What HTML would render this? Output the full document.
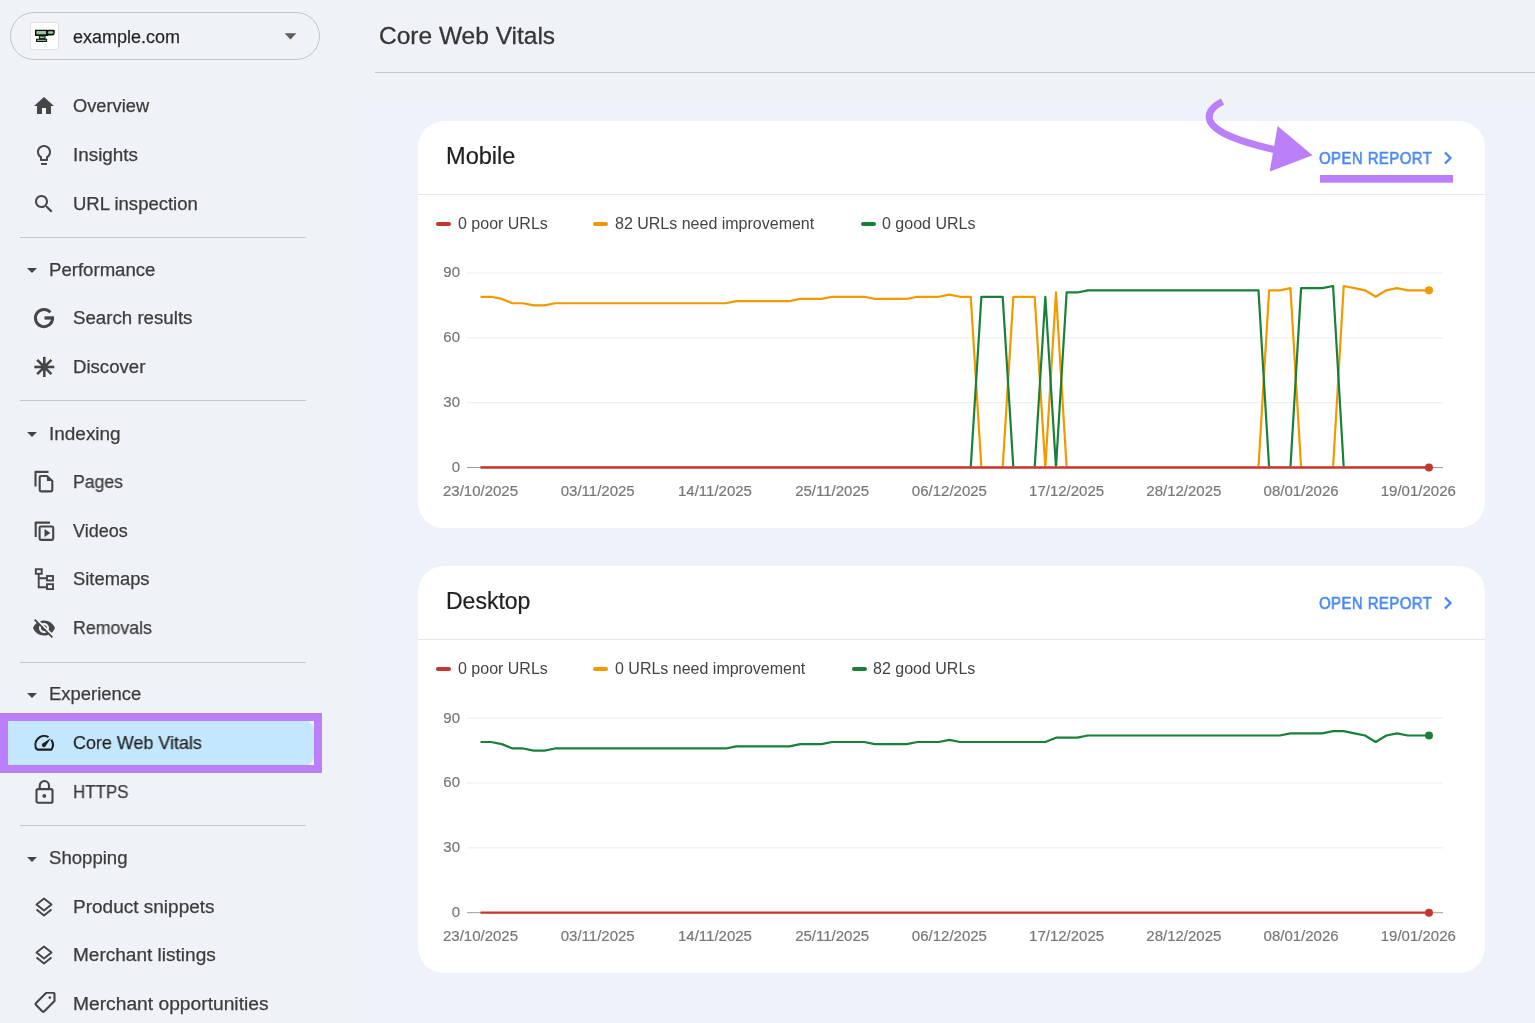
<!DOCTYPE html>
<html><head><meta charset="utf-8"><title>Core Web Vitals</title>
<style>
html,body{margin:0;padding:0;}
body{width:1535px;height:1023px;overflow:hidden;background:#eff2f7;position:relative;font-family:"Liberation Sans",sans-serif;}
.t{position:absolute;white-space:nowrap;line-height:1;will-change:transform;}
.nav{font-size:18px;color:#3c3c3c;-webkit-text-stroke:0.25px #3c3c3c;}
.ic{position:absolute;}
.div{position:absolute;left:20px;width:286px;height:1px;background:#c4c7c5;}
.card{position:absolute;left:418px;width:1067px;background:#fff;border-radius:26px;}
.ax{font-family:"Liberation Sans",sans-serif;font-size:15px;fill:#777;stroke:#777;stroke-width:0.2px;}
.leg{font-size:16px;color:#444;}
.dash{position:absolute;width:15px;height:4.5px;border-radius:3px;}
.open{font-size:16.8px;font-weight:normal;color:#4687f2;letter-spacing:0.5px;-webkit-text-stroke:0.6px #4687f2;transform:scaleX(0.89);transform-origin:0 0;}
</style></head><body>

<div style="position:absolute;left:367px;top:105px;width:1168px;height:918px;background:#eef2fa;"></div>
<div style="position:absolute;left:10px;top:12px;width:308px;height:46px;border:1.2px solid #c2c5c4;border-radius:25px;"></div>
<div style="position:absolute;left:30px;top:21.5px;width:28.5px;height:28.5px;background:#fff;border:1px solid #e0e0e0;border-radius:3px;box-sizing:border-box;"></div>
<svg class="ic" style="left:34px;top:28px" width="22" height="16" viewBox="0 0 22 16"><path d="M1 1.800H19.800C20.800 1.800 21 2.800 20.800 4.700 20.500 6.700 19.500 7.500 18 7.500H14.500L13.800 8H1z" fill="#111"/><rect x="2.500" y="3" width="9.500" height="3.300" fill="#93c99a"/><rect x="13.800" y="3.300" width="5.600" height="2.500" rx="1.200" fill="#93c99a"/><path d="M4.900 7.800H11.500V10.800H13.100V14.100H2V10.800H4.900z" fill="#111"/><rect x="5.900" y="8.500" width="4.600" height="1.600" fill="#93c99a"/><rect x="3" y="11.800" width="9.100" height="1.100" fill="#93c99a"/></svg>
<div class="t nav" style="left:73px;top:27.6px;color:#1f1f1f;">example.com</div>
<svg class="ic" style="left:283.5px;top:33px" width="13" height="7" viewBox="0 0 13 7"><path d="M0.6 0.3H12.400L6.500 6.500z" fill="#5e5e5e"/></svg>
<svg class="ic" style="left:31.5px;top:94.3px" width="24" height="24" viewBox="0 0 24 24"><path d="M10 20v-6h4v6h5v-8h3L12 3 2 12h3v8z" fill="#444746"/></svg>
<div class="t nav" style="left:73px;top:97.3px;transform:scaleX(1.015);transform-origin:0 0">Overview</div>
<svg class="ic" style="left:31.5px;top:142.8px" width="24" height="24" viewBox="0 0 24 24"><path d="M9 21c0 .55.45 1 1 1h4c.55 0 1-.45 1-1v-1H9v1zm3-19C8.14 2 5 5.14 5 9c0 2.38 1.19 4.47 3 5.74V17c0 .55.45 1 1 1h6c.55 0 1-.45 1-1v-2.26c1.81-1.27 3-3.36 3-5.74 0-3.86-3.14-7-7-7zm2.85 11.1l-.85.6V16h-4v-2.3l-.85-.6C7.8 12.16 7 10.63 7 9c0-2.76 2.24-5 5-5s5 2.24 5 5c0 1.630-.8 3.16-2.15 4.1z" fill="#444746"/></svg>
<div class="t nav" style="left:73px;top:145.8px;transform:scaleX(1.048);transform-origin:0 0">Insights</div>
<svg class="ic" style="left:31.5px;top:191.5px" width="24" height="24" viewBox="0 0 24 24"><path d="M15.5 14h-.79l-.28-.27C15.41 12.59 16 11.11 16 9.5 16 5.91 13.09 3 9.5 3S3 5.91 3 9.5 5.91 16 9.5 16c1.61 0 3.09-.59 4.23-1.57l.27.28v.79l5 4.99L20.49 19l-4.99-5zm-6 0C7.01 14 5 11.99 5 9.5S7.01 5 9.5 5 14 7.01 14 9.5 11.99 14 9.5 14z" fill="#444746"/></svg>
<div class="t nav" style="left:73px;top:194.5px;transform:scaleX(1.028);transform-origin:0 0">URL inspection</div>
<div class="div" style="top:236.7px"></div>
<svg class="ic" style="left:19.5px;top:258.2px" width="24" height="24" viewBox="0 0 24 24"><path d="M7 10l5 5 5-5z" fill="#444746"/></svg>
<div class="t nav" style="left:48.5px;top:260.6px;transform:scaleX(1.033);transform-origin:0 0">Performance</div>
<svg class="ic" style="left:31.5px;top:306.40000000000003px" width="24" height="24" viewBox="0 0 24 24"><path d="M18.4 6.3A8.6 8.6 0 1 0 20.600 12" fill="none" stroke="#444746" stroke-width="2.900"/><rect x="12.500" y="10.300" width="9.500" height="3.300" fill="#444746"/></svg>
<div class="t nav" style="left:73px;top:309.40000000000003px;transform:scaleX(1.038);transform-origin:0 0">Search results</div>
<svg class="ic" style="left:31.5px;top:354.8px" width="24" height="24" viewBox="0 0 24 24"><g stroke="#444746" stroke-width="2.600"><line x1="12.300" y1="1.900" x2="12.300" y2="22"/><line x1="2.300" y1="12" x2="22.300" y2="12"/><line x1="5.200" y1="4.900" x2="19.400" y2="19.100"/><line x1="5.200" y1="19.100" x2="19.400" y2="4.900"/></g><circle cx="12.300" cy="12" r="3.600" fill="#444746"/></svg>
<div class="t nav" style="left:73px;top:357.8px;transform:scaleX(1.033);transform-origin:0 0">Discover</div>
<div class="div" style="top:400.3px"></div>
<svg class="ic" style="left:19.5px;top:422.4px" width="24" height="24" viewBox="0 0 24 24"><path d="M7 10l5 5 5-5z" fill="#444746"/></svg>
<div class="t nav" style="left:48.5px;top:424.8px;transform:scaleX(1.053);transform-origin:0 0">Indexing</div>
<svg class="ic" style="left:31.5px;top:470.3px" width="24" height="24" viewBox="0 0 24 24"><g fill="none" stroke="#444746" stroke-width="2.100" stroke-linejoin="round"><path d="M3.500 16.600V1.900H16.500"/><path d="M9 6H14.900L20.300 11.100V20.100A1.300 1.300 0 0 1 19 21.400H9A1.300 1.300 0 0 1 7.700 20.100V7.300A1.300 1.300 0 0 1 9 6z"/></g><path d="M14.900 6V11.100H20.300z" fill="#444746"/></svg>
<div class="t nav" style="left:73px;top:473.3px;transform:scaleX(0.98);transform-origin:0 0">Pages</div>
<svg class="ic" style="left:31.5px;top:518.5px" width="24" height="24" viewBox="0 0 24 24"><g fill="none" stroke="#444746" stroke-width="2.100" stroke-linejoin="round"><path d="M3.700 18.100V3.600H18"/><rect x="7.600" y="7.500" width="13.600" height="13.400" rx="1.300"/></g><path d="M12.500 9.900V18.100L18.400 14z" fill="#444746"/></svg>
<div class="t nav" style="left:73px;top:521.5px;transform:scaleX(1.0);transform-origin:0 0">Videos</div>
<svg class="ic" style="left:31.5px;top:566.8px" width="24" height="24" viewBox="0 0 24 24"><g fill="none" stroke="#444746" stroke-width="1.900"><rect x="3.800" y="2.200" width="5.900" height="4.600"/><rect x="15" y="9" width="6" height="4.500"/><rect x="15" y="17.200" width="6" height="4.900"/><path d="M6.700 6.800V20.200H15M6.700 11.200H15"/></g></svg>
<div class="t nav" style="left:73px;top:569.8px;transform:scaleX(1.02);transform-origin:0 0">Sitemaps</div>
<svg class="ic" style="left:31.5px;top:615.5999999999999px" width="24" height="24" viewBox="0 0 24 24"><path d="M12 7c2.760 0 5 2.240 5 5 0 .650-.130 1.260-.360 1.830l2.920 2.920c1.510-1.260 2.700-2.890 3.430-4.750-1.730-4.390-6-7.500-11-7.500-1.400 0-2.740.250-3.980.700l2.160 2.160C10.740 7.130 11.350 7 12 7zM2 4.270l2.280 2.280.460.460C3.080 8.300 1.780 10.020 1 12c1.730 4.390 6 7.500 11 7.500 1.550 0 3.030-.300 4.380-.840l.420.420L19.730 22 21 20.730 3.270 3 2 4.270zM7.530 9.800l1.550 1.550c-.050.210-.080.430-.080.650 0 1.660 1.340 3 3 3 .220 0 .440-.030.650-.080l1.550 1.550c-.670.330-1.410.530-2.200.530-2.760 0-5-2.240-5-5 0-.790.200-1.530.530-2.200zm4.310-.780l3.150 3.150.020-.160c0-1.660-1.340-3-3-3l-.170.010z" fill="#444746"/></svg>
<div class="t nav" style="left:73px;top:618.5999999999999px;transform:scaleX(0.987);transform-origin:0 0">Removals</div>
<div class="div" style="top:661.7px"></div>
<svg class="ic" style="left:19.5px;top:683.0px" width="24" height="24" viewBox="0 0 24 24"><path d="M7 10l5 5 5-5z" fill="#444746"/></svg>
<div class="t nav" style="left:48.5px;top:685.4px;transform:scaleX(1.024);transform-origin:0 0">Experience</div>
<div style="position:absolute;left:0;top:713px;width:322px;height:60px;background:#bb80f9;"></div><div style="position:absolute;left:8px;top:721px;width:306px;height:44px;background:#eff2f7;"></div>
<div style="position:absolute;left:8px;top:721px;width:306px;height:44px;background:#c2e7ff;border-radius:0 9px 9px 0;"></div>
<svg class="ic" style="left:31.5px;top:731.1999999999999px" width="24" height="24" viewBox="0 0 24 24"><path d="M4.870 18.600A8.750 8.750 0 0 1 16.500 6.170M19.300 8.730A8.750 8.750 0 0 1 19.430 18.600H4.870" fill="none" stroke="#1f1f1f" stroke-width="2.100" stroke-linejoin="round"/><path d="M10.300 15.300A2 2 0 0 0 13.300 15.500L19 7 10.600 12.600A2 2 0 0 0 10.300 15.300z" fill="#1f1f1f"/></svg>
<div class="t nav" style="left:73px;top:734.1999999999999px;color:#1f1f1f;transform:scaleX(0.995);transform-origin:0 0">Core Web Vitals</div>
<svg class="ic" style="left:31.5px;top:779.5px" width="24" height="24" viewBox="0 0 24 24"><g fill="none" stroke="#444746" stroke-width="2.100"><rect x="4.500" y="9.100" width="16" height="13.700" rx="1.600"/><path d="M7.700 9.100V5.700A4.650 4.650 0 0 1 17 5.700V9.100"/></g><circle cx="12.300" cy="15.900" r="1.900" fill="#444746"/></svg>
<div class="t nav" style="left:73px;top:782.5px;transform:scaleX(0.94);transform-origin:0 0">HTTPS</div>
<div class="div" style="top:825.1px"></div>
<svg class="ic" style="left:19.5px;top:846.9px" width="24" height="24" viewBox="0 0 24 24"><path d="M7 10l5 5 5-5z" fill="#444746"/></svg>
<div class="t nav" style="left:48.5px;top:849.3px;transform:scaleX(1.032);transform-origin:0 0">Shopping</div>
<svg class="ic" style="left:31.5px;top:894.5999999999999px" width="24" height="24" viewBox="0 0 24 24"><g fill="none" stroke="#444746" stroke-width="2" stroke-linejoin="round"><path d="M12 3.500L4.500 9.500 12 15.500 19.500 9.500z"/><path d="M4.500 14.500L12 20.500l7.500-6"/></g></svg>
<div class="t nav" style="left:73px;top:897.5999999999999px;transform:scaleX(1.056);transform-origin:0 0">Product snippets</div>
<svg class="ic" style="left:31.5px;top:943.0999999999999px" width="24" height="24" viewBox="0 0 24 24"><g fill="none" stroke="#444746" stroke-width="2" stroke-linejoin="round"><path d="M12 3.500L4.500 9.500 12 15.500 19.500 9.500z"/><path d="M4.500 14.500L12 20.500l7.500-6"/></g></svg>
<div class="t nav" style="left:73px;top:946.0999999999999px;transform:scaleX(1.057);transform-origin:0 0">Merchant listings</div>
<svg class="ic" style="left:31.5px;top:991.5999999999999px" width="24" height="24" viewBox="0 0 24 24"><g fill="none" stroke="#444746" stroke-width="2.100" stroke-linejoin="round"><path d="M14.300 0.800H21.200A1.300 1.300 0 0 1 22.500 2.100V9L12.300 19.200A1.500 1.500 0 0 1 10.200 19.200L4.100 13.100A1.500 1.500 0 0 1 4.100 11z"/></g><circle cx="17.800" cy="5.600" r="1.300" fill="#444746"/></svg>
<div class="t nav" style="left:73px;top:994.5999999999999px;transform:scaleX(1.068);transform-origin:0 0">Merchant opportunities</div>
<div class="t" style="left:379px;top:24.099999999999998px;font-size:24.5px;color:#363636;-webkit-text-stroke:0.3px #363636;">Core Web Vitals</div>
<div style="position:absolute;left:375px;top:72px;width:1160px;height:1px;background:#c4c7c5;"></div>
<div class="card" style="top:121px;height:407px;"></div>
<div class="t" style="left:446px;top:144.5px;font-size:23px;color:#202020;-webkit-text-stroke:0.2px #202020;transform:scaleX(1.025);transform-origin:0 0;">Mobile</div>
<div style="position:absolute;left:418px;top:194px;width:1067px;height:1px;background:#e6e6e6;"></div>
<div class="t open" style="left:1319px;top:150.9px">OPEN REPORT</div>
<svg class="ic" style="left:1440px;top:145.5px" width="16" height="24" viewBox="0 0 16 24"><path d="M5 6.500l5.500 5.500L5 17.500" fill="none" stroke="#4687f2" stroke-width="2.300"/></svg>
<div class="dash" style="left:435.8px;top:221.8px;background:#c5372c"></div>
<div class="t leg" style="left:457.5px;top:216.1px">0 poor URLs</div>
<div class="dash" style="left:592.8px;top:221.8px;background:#f29900"></div>
<div class="t leg" style="left:614.5px;top:216.1px">82 URLs need improvement</div>
<div class="dash" style="left:860.8px;top:221.8px;background:#188038"></div>
<div class="t leg" style="left:882.0px;top:216.1px">0 good URLs</div>
<div class="card" style="top:566px;height:407px;"></div>
<div class="t" style="left:446px;top:589.5px;font-size:23px;color:#202020;-webkit-text-stroke:0.2px #202020;transform:scaleX(1.0);transform-origin:0 0;">Desktop</div>
<div style="position:absolute;left:418px;top:639px;width:1067px;height:1px;background:#e6e6e6;"></div>
<div class="t open" style="left:1319px;top:595.9px">OPEN REPORT</div>
<svg class="ic" style="left:1440px;top:590.5px" width="16" height="24" viewBox="0 0 16 24"><path d="M5 6.500l5.500 5.500L5 17.500" fill="none" stroke="#4687f2" stroke-width="2.300"/></svg>
<div class="dash" style="left:435.8px;top:666.8px;background:#c5372c"></div>
<div class="t leg" style="left:457.5px;top:661.1px">0 poor URLs</div>
<div class="dash" style="left:592.8px;top:666.8px;background:#f29900"></div>
<div class="t leg" style="left:614.5px;top:661.1px">0 URLs need improvement</div>
<div class="dash" style="left:851.8px;top:666.8px;background:#188038"></div>
<div class="t leg" style="left:873.0px;top:661.1px">82 good URLs</div>
<svg style="position:absolute;left:0;top:0" width="1535" height="1023">
<line x1="467" y1="402.67" x2="1443" y2="402.67" stroke="#ebebeb" stroke-width="1"/>
<line x1="467" y1="337.84" x2="1443" y2="337.84" stroke="#ebebeb" stroke-width="1"/>
<line x1="467" y1="273.01" x2="1443" y2="273.01" stroke="#ebebeb" stroke-width="1"/>
<line x1="467" y1="467.50" x2="1443" y2="467.50" stroke="#9e9e9e" stroke-width="1"/>
<text x="460" y="471.80" text-anchor="end" class="ax">0</text>
<text x="460" y="406.97" text-anchor="end" class="ax">30</text>
<text x="460" y="342.14" text-anchor="end" class="ax">60</text>
<text x="460" y="277.31" text-anchor="end" class="ax">90</text>
<text x="480.50" y="495.50" text-anchor="middle" class="ax">23/10/2025</text>
<text x="597.73" y="495.50" text-anchor="middle" class="ax">03/11/2025</text>
<text x="714.95" y="495.50" text-anchor="middle" class="ax">14/11/2025</text>
<text x="832.18" y="495.50" text-anchor="middle" class="ax">25/11/2025</text>
<text x="949.41" y="495.50" text-anchor="middle" class="ax">06/12/2025</text>
<text x="1066.63" y="495.50" text-anchor="middle" class="ax">17/12/2025</text>
<text x="1183.86" y="495.50" text-anchor="middle" class="ax">28/12/2025</text>
<text x="1301.09" y="495.50" text-anchor="middle" class="ax">08/01/2026</text>
<text x="1418.30" y="495.50" text-anchor="middle" class="ax">19/01/2026</text>
<clipPath id="c467"><rect x="0" y="0" width="1535" height="466.40"/></clipPath>
<polyline clip-path="url(#c467)" points="480.50,296.78 491.16,296.78 501.81,298.94 512.47,303.26 523.13,303.26 533.78,305.43 544.44,305.43 555.10,303.26 565.76,303.26 576.41,303.26 587.07,303.26 597.73,303.26 608.38,303.26 619.04,303.26 629.70,303.26 640.36,303.26 651.01,303.26 661.67,303.26 672.33,303.26 682.98,303.26 693.64,303.26 704.30,303.26 714.95,303.26 725.61,303.26 736.27,301.10 746.92,301.10 757.58,301.10 768.24,301.10 778.90,301.10 789.55,301.10 800.21,298.94 810.87,298.94 821.52,298.94 832.18,296.78 842.84,296.78 853.50,296.78 864.15,296.78 874.81,298.94 885.47,298.94 896.12,298.94 906.78,298.94 917.44,296.78 928.09,296.78 938.75,296.78 949.41,294.62 960.07,296.78 970.72,296.78 981.38,467.50 992.04,467.50 1002.69,467.50 1013.35,296.78 1024.01,296.78 1034.66,296.78 1045.32,467.50 1055.98,292.46 1066.63,467.50 1077.29,467.50 1087.95,467.50 1098.61,467.50 1109.26,467.50 1119.92,467.50 1130.58,467.50 1141.23,467.50 1151.89,467.50 1162.55,467.50 1173.20,467.50 1183.86,467.50 1194.52,467.50 1205.18,467.50 1215.83,467.50 1226.49,467.50 1237.15,467.50 1247.80,467.50 1258.46,467.50 1269.12,290.30 1279.78,290.30 1290.43,288.14 1301.09,467.50 1311.75,467.50 1322.40,467.50 1333.06,467.50 1343.72,285.98 1354.37,288.14 1365.03,290.30 1375.69,296.78 1386.35,290.30 1397.00,288.14 1407.66,290.30 1418.32,290.30 1428.97,290.30" fill="none" stroke="#f29900" stroke-width="2.2" stroke-linejoin="round"/>
<polyline clip-path="url(#c467)" points="480.50,467.50 491.16,467.50 501.81,467.50 512.47,467.50 523.13,467.50 533.78,467.50 544.44,467.50 555.10,467.50 565.76,467.50 576.41,467.50 587.07,467.50 597.73,467.50 608.38,467.50 619.04,467.50 629.70,467.50 640.36,467.50 651.01,467.50 661.67,467.50 672.33,467.50 682.98,467.50 693.64,467.50 704.30,467.50 714.95,467.50 725.61,467.50 736.27,467.50 746.92,467.50 757.58,467.50 768.24,467.50 778.90,467.50 789.55,467.50 800.21,467.50 810.87,467.50 821.52,467.50 832.18,467.50 842.84,467.50 853.50,467.50 864.15,467.50 874.81,467.50 885.47,467.50 896.12,467.50 906.78,467.50 917.44,467.50 928.09,467.50 938.75,467.50 949.41,467.50 960.07,467.50 970.72,467.50 981.38,296.78 992.04,296.78 1002.69,296.78 1013.35,467.50 1024.01,467.50 1034.66,467.50 1045.32,296.78 1055.98,467.50 1066.63,292.46 1077.29,292.46 1087.95,290.30 1098.61,290.30 1109.26,290.30 1119.92,290.30 1130.58,290.30 1141.23,290.30 1151.89,290.30 1162.55,290.30 1173.20,290.30 1183.86,290.30 1194.52,290.30 1205.18,290.30 1215.83,290.30 1226.49,290.30 1237.15,290.30 1247.80,290.30 1258.46,290.30 1269.12,467.50 1279.78,467.50 1290.43,467.50 1301.09,288.14 1311.75,288.14 1322.40,288.14 1333.06,285.98 1343.72,467.50 1354.37,467.50 1365.03,467.50 1375.69,467.50 1386.35,467.50 1397.00,467.50 1407.66,467.50 1418.32,467.50 1428.97,467.50" fill="none" stroke="#188038" stroke-width="2.2" stroke-linejoin="round"/>
<polyline points="480.50,467.50 491.16,467.50 501.81,467.50 512.47,467.50 523.13,467.50 533.78,467.50 544.44,467.50 555.10,467.50 565.76,467.50 576.41,467.50 587.07,467.50 597.73,467.50 608.38,467.50 619.04,467.50 629.70,467.50 640.36,467.50 651.01,467.50 661.67,467.50 672.33,467.50 682.98,467.50 693.64,467.50 704.30,467.50 714.95,467.50 725.61,467.50 736.27,467.50 746.92,467.50 757.58,467.50 768.24,467.50 778.90,467.50 789.55,467.50 800.21,467.50 810.87,467.50 821.52,467.50 832.18,467.50 842.84,467.50 853.50,467.50 864.15,467.50 874.81,467.50 885.47,467.50 896.12,467.50 906.78,467.50 917.44,467.50 928.09,467.50 938.75,467.50 949.41,467.50 960.07,467.50 970.72,467.50 981.38,467.50 992.04,467.50 1002.69,467.50 1013.35,467.50 1024.01,467.50 1034.66,467.50 1045.32,467.50 1055.98,467.50 1066.63,467.50 1077.29,467.50 1087.95,467.50 1098.61,467.50 1109.26,467.50 1119.92,467.50 1130.58,467.50 1141.23,467.50 1151.89,467.50 1162.55,467.50 1173.20,467.50 1183.86,467.50 1194.52,467.50 1205.18,467.50 1215.83,467.50 1226.49,467.50 1237.15,467.50 1247.80,467.50 1258.46,467.50 1269.12,467.50 1279.78,467.50 1290.43,467.50 1301.09,467.50 1311.75,467.50 1322.40,467.50 1333.06,467.50 1343.72,467.50 1354.37,467.50 1365.03,467.50 1375.69,467.50 1386.35,467.50 1397.00,467.50 1407.66,467.50 1418.32,467.50 1428.97,467.50" fill="none" stroke="#c5372c" stroke-width="2.3" stroke-linejoin="round"/>
<circle cx="1428.97" cy="290.30" r="4" fill="#f29900"/>
<circle cx="1428.97" cy="467.5" r="4" fill="#c5372c"/>
<line x1="467" y1="847.87" x2="1443" y2="847.87" stroke="#ebebeb" stroke-width="1"/>
<line x1="467" y1="783.04" x2="1443" y2="783.04" stroke="#ebebeb" stroke-width="1"/>
<line x1="467" y1="718.21" x2="1443" y2="718.21" stroke="#ebebeb" stroke-width="1"/>
<line x1="467" y1="912.70" x2="1443" y2="912.70" stroke="#9e9e9e" stroke-width="1"/>
<text x="460" y="917.00" text-anchor="end" class="ax">0</text>
<text x="460" y="852.17" text-anchor="end" class="ax">30</text>
<text x="460" y="787.34" text-anchor="end" class="ax">60</text>
<text x="460" y="722.51" text-anchor="end" class="ax">90</text>
<text x="480.50" y="940.70" text-anchor="middle" class="ax">23/10/2025</text>
<text x="597.73" y="940.70" text-anchor="middle" class="ax">03/11/2025</text>
<text x="714.95" y="940.70" text-anchor="middle" class="ax">14/11/2025</text>
<text x="832.18" y="940.70" text-anchor="middle" class="ax">25/11/2025</text>
<text x="949.41" y="940.70" text-anchor="middle" class="ax">06/12/2025</text>
<text x="1066.63" y="940.70" text-anchor="middle" class="ax">17/12/2025</text>
<text x="1183.86" y="940.70" text-anchor="middle" class="ax">28/12/2025</text>
<text x="1301.09" y="940.70" text-anchor="middle" class="ax">08/01/2026</text>
<text x="1418.30" y="940.70" text-anchor="middle" class="ax">19/01/2026</text>
<clipPath id="c912"><rect x="0" y="0" width="1535" height="911.60"/></clipPath>
<polyline clip-path="url(#c912)" points="480.50,741.98 491.16,741.98 501.81,744.14 512.47,748.46 523.13,748.46 533.78,750.62 544.44,750.62 555.10,748.46 565.76,748.46 576.41,748.46 587.07,748.46 597.73,748.46 608.38,748.46 619.04,748.46 629.70,748.46 640.36,748.46 651.01,748.46 661.67,748.46 672.33,748.46 682.98,748.46 693.64,748.46 704.30,748.46 714.95,748.46 725.61,748.46 736.27,746.30 746.92,746.30 757.58,746.30 768.24,746.30 778.90,746.30 789.55,746.30 800.21,744.14 810.87,744.14 821.52,744.14 832.18,741.98 842.84,741.98 853.50,741.98 864.15,741.98 874.81,744.14 885.47,744.14 896.12,744.14 906.78,744.14 917.44,741.98 928.09,741.98 938.75,741.98 949.41,739.82 960.07,741.98 970.72,741.98 981.38,741.98 992.04,741.98 1002.69,741.98 1013.35,741.98 1024.01,741.98 1034.66,741.98 1045.32,741.98 1055.98,737.66 1066.63,737.66 1077.29,737.66 1087.95,735.50 1098.61,735.50 1109.26,735.50 1119.92,735.50 1130.58,735.50 1141.23,735.50 1151.89,735.50 1162.55,735.50 1173.20,735.50 1183.86,735.50 1194.52,735.50 1205.18,735.50 1215.83,735.50 1226.49,735.50 1237.15,735.50 1247.80,735.50 1258.46,735.50 1269.12,735.50 1279.78,735.50 1290.43,733.34 1301.09,733.34 1311.75,733.34 1322.40,733.34 1333.06,731.18 1343.72,731.18 1354.37,733.34 1365.03,735.50 1375.69,741.98 1386.35,735.50 1397.00,733.34 1407.66,735.50 1418.32,735.50 1428.97,735.50" fill="none" stroke="#188038" stroke-width="2.2" stroke-linejoin="round"/>
<polyline points="480.50,912.70 491.16,912.70 501.81,912.70 512.47,912.70 523.13,912.70 533.78,912.70 544.44,912.70 555.10,912.70 565.76,912.70 576.41,912.70 587.07,912.70 597.73,912.70 608.38,912.70 619.04,912.70 629.70,912.70 640.36,912.70 651.01,912.70 661.67,912.70 672.33,912.70 682.98,912.70 693.64,912.70 704.30,912.70 714.95,912.70 725.61,912.70 736.27,912.70 746.92,912.70 757.58,912.70 768.24,912.70 778.90,912.70 789.55,912.70 800.21,912.70 810.87,912.70 821.52,912.70 832.18,912.70 842.84,912.70 853.50,912.70 864.15,912.70 874.81,912.70 885.47,912.70 896.12,912.70 906.78,912.70 917.44,912.70 928.09,912.70 938.75,912.70 949.41,912.70 960.07,912.70 970.72,912.70 981.38,912.70 992.04,912.70 1002.69,912.70 1013.35,912.70 1024.01,912.70 1034.66,912.70 1045.32,912.70 1055.98,912.70 1066.63,912.70 1077.29,912.70 1087.95,912.70 1098.61,912.70 1109.26,912.70 1119.92,912.70 1130.58,912.70 1141.23,912.70 1151.89,912.70 1162.55,912.70 1173.20,912.70 1183.86,912.70 1194.52,912.70 1205.18,912.70 1215.83,912.70 1226.49,912.70 1237.15,912.70 1247.80,912.70 1258.46,912.70 1269.12,912.70 1279.78,912.70 1290.43,912.70 1301.09,912.70 1311.75,912.70 1322.40,912.70 1333.06,912.70 1343.72,912.70 1354.37,912.70 1365.03,912.70 1375.69,912.70 1386.35,912.70 1397.00,912.70 1407.66,912.70 1418.32,912.70 1428.97,912.70" fill="none" stroke="#c5372c" stroke-width="2.3" stroke-linejoin="round"/>
<circle cx="1428.97" cy="735.50" r="4" fill="#188038"/>
<circle cx="1428.97" cy="912.7" r="4" fill="#c5372c"/>
<path d="M1222.500 101.500C1212 107 1207 113 1210 121 1216 134 1245 143 1276 150" fill="none" stroke="#bb80f9" stroke-width="7"/>
<path d="M1277.600 125.900L1312.600 155.300 1269.700 171.500z" fill="#bb80f9"/>
<rect x="1320" y="175" width="133" height="7.700" fill="#bb80f9"/>
</svg>
</body></html>
